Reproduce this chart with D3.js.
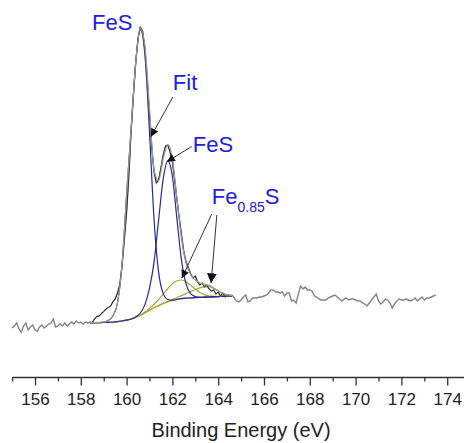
<!DOCTYPE html>
<html>
<head>
<meta charset="utf-8">
<script src="https://cdn.jsdelivr.net/npm/d3@7"></script>
<style>
  body { margin: 0; background: #fff; overflow: hidden; }
  svg { display: block; font-family: Arial, "Liberation Sans", sans-serif; }
</style>
</head>
<body>
<div id="plot"></div>
<script>
// measured spectrum: 155.0 .. 173.5 eV, one point every 0.1 eV
var rawStart = 155.0, rawStep = 0.1;
var rawCounts = [
  120,140,170,110,80,140,170,100,130,150, 100,90,130,150,120,140,160,170,210,130,
  140,160,140,170,140,160,180,160,190,170, 180,160,180,170,180,
  175,210,235,240,265,285,310,325,340,380, 410,470,550,740,1000,1280,1650,2100,2450,2780,
  3020,3130,3090,2900,2600,2250,1920,1680,1570,1600, 1720,1850,1940,1950,1880,1780,1600,1400,1220,1050,
  880,780,720,660,620,640,580,550,570,530, 550,510,490,500,460,480,440,470,430,450, 440,
  450,420,390,380,400,430,450,380,390,420, 420,420,430,430,440,450,470,500,500,480,
  480,470,480,440,470,470,390,400,370,460, 540,510,530,500,500,490,440,430,410,400,
  400,400,420,430,440,450,430,410,390,410, 420,400,410,410,400,390,390,370,360,340,
  370,400,430,460,390,360,380,410,400,370, 320,360,390,410,400,400,410,400,390,400,
  420,390,410,430,400,420,420,430,440,450
];
// part of the measured curve drawn in black
var blackFrom = 158.5, blackTo = 164.5;

// fitted curves: 158.4 .. 164.6 eV, one point every 0.2 eV
var fitStart = 158.4, fitStep = 0.2;
var background = [172,173,174,175,177,180,184,190,198,210,226,247,272,298,322,344,364,381,395,406,413,418,421,424,426,428,430,432,434,436,438,440];
var fesMain    = [172,173,175,180,195,240,370,750,1450,2120,2780,3100,2852,2078,1202,674,464,405,397,406,413,418,421,424,426,428,430,432,434,436,438,440];
var fesSecond  = [172,173,174,175,177,180,184,190,198,210,231,270,354,518,782,1204,1614,1791,1635,1206,793,558,461,434,426,428,430,432,434,436,438,440];
var fe085Low   = [172,173,174,175,177,180,184,190,198,210,227,250,280,316,357,406,460,515,563,593,600,582,547,509,476,454,442,437,436,436,438,440];
var fe085High  = [172,173,174,175,177,180,184,190,198,210,226,247,272,298,322,344,367,386,405,425,444,464,485,505,522,532,534,516,491,467,452,445];
var fitEnvelope= [172,173,175,180,195,240,370,750,1450,2120,2780,3120,2942,2316,1697,1596,1813,1954,1815,1412,1011,768,651,600,572,558,546,521,493,467,452,445];

var majorTicks = [156,158,160,162,164,166,168,170,172,174];
var minorTicks = [155,157,159,161,163,165,167,169,171,173];

// annotations in data units: label anchor and arrows (from -> tip)
var annoLabels = [
  {text: "FeS", e: 158.49, c: 3100},
  {text: "Fit", e: 162.02, c: 2505},
  {text: "FeS", e: 162.89, c: 1880},
  {text: "Fe", sub: "0.85", after: "S", e: 163.72, c: 1357}
];
var annoArrows = [
  {e0: 162.02, c0: 2430, e1: 161.06, c1: 2033, head: "small"},
  {e0: 162.84, c0: 1935, e1: 161.76, c1: 1783, head: "small"},
  {e0: 163.72, c0: 1260, e1: 162.41, c1: 617, head: "small"},
  {e0: 163.94, c0: 1250, e1: 163.69, c1: 567, head: "big"}
];

var W = 464, H = 443;
var svg = d3.select("#plot").append("svg")
  .attr("width", W).attr("height", H);

var x = d3.scaleLinear().domain([155, 175]).range([12.1, 470.1]);
var y = d3.scaleLinear().domain([0, 3200]).range([340, 20]);

function toPoints(arr, start, step) {
  return arr.map(function(v, i) { return [start + i * step, v]; });
}
var rawPts = toPoints(rawCounts, rawStart, rawStep);
var blackPts = rawPts.filter(function(p) { return p[0] >= blackFrom - 1e-6 && p[0] <= blackTo + 1e-6; });

var straight = d3.line().x(function(d) { return x(d[0]); }).y(function(d) { return y(d[1]); });
var smooth = d3.line().x(function(d) { return x(d[0]); }).y(function(d) { return y(d[1]); })
  .curve(d3.curveMonotoneX);

// ---- fitted components ----
var yellow = "#aaa832", blue = "#28289e";
[background, fe085Low, fe085High].forEach(function(s) {
  svg.append("path").datum(toPoints(s, fitStart, fitStep))
    .attr("d", smooth).attr("fill", "none")
    .attr("stroke", yellow).attr("stroke-width", 1.2);
});
[fesMain, fesSecond].forEach(function(s) {
  svg.append("path").datum(toPoints(s, fitStart, fitStep))
    .attr("d", smooth).attr("fill", "none")
    .attr("stroke", blue).attr("stroke-width", 1.2);
});

// ---- measured data ----
svg.append("path").datum(rawPts)
  .attr("d", straight).attr("fill", "none")
  .attr("stroke", "#858585").attr("stroke-width", 1.4);
svg.append("path").datum(blackPts)
  .attr("d", straight).attr("fill", "none")
  .attr("stroke", "#2a2a2a").attr("stroke-width", 1);

// fit envelope
svg.append("path").datum(toPoints(fitEnvelope, fitStart, fitStep))
  .attr("d", smooth).attr("fill", "none")
  .attr("stroke", "#999").attr("stroke-width", 1.2);

// ---- axis ----
var axisY = 377;
var gMajor = svg.append("g").attr("transform", "translate(0," + axisY + ")")
  .call(d3.axisBottom(x).tickValues(majorTicks).tickSize(8.5).tickSizeOuter(0).tickPadding(7.5));
gMajor.selectAll("text").attr("font-size", 17).attr("fill", "#222").attr("font-family", "Arial, 'Liberation Sans', sans-serif");
gMajor.select(".domain").attr("stroke", "#333").attr("stroke-width", 1.4);
gMajor.selectAll(".tick line").attr("stroke", "#333").attr("stroke-width", 1.3);

var gMinor = svg.append("g").attr("transform", "translate(0," + axisY + ")")
  .call(d3.axisBottom(x).tickValues(minorTicks).tickSize(4.5).tickSizeOuter(0).tickFormat(""));
gMinor.select(".domain").remove();
gMinor.selectAll(".tick line").attr("stroke", "#333").attr("stroke-width", 1.3);

svg.append("text")
  .attr("x", x(165)).attr("y", 437)
  .attr("text-anchor", "middle")
  .attr("font-size", 20).attr("fill", "#222")
  .text("Binding Energy (eV)");

// ---- annotations ----
var defs = svg.append("defs");
defs.append("marker").attr("id", "head-small")
  .attr("markerUnits", "userSpaceOnUse")
  .attr("viewBox", "0 0 10 10").attr("refX", 10).attr("refY", 5)
  .attr("markerWidth", 9).attr("markerHeight", 8).attr("orient", "auto")
  .append("path").attr("d", "M0,0 L10,5 L0,10 z").attr("fill", "#111");
defs.append("marker").attr("id", "head-big")
  .attr("markerUnits", "userSpaceOnUse")
  .attr("viewBox", "0 0 10 10").attr("refX", 10).attr("refY", 5)
  .attr("markerWidth", 10).attr("markerHeight", 12).attr("orient", "auto")
  .append("path").attr("d", "M0,0 L10,5 L0,10 z").attr("fill", "#111");

svg.selectAll(".arrow").data(annoArrows).enter().append("line")
  .attr("class", "arrow")
  .attr("x1", function(d) { return x(d.e0); })
  .attr("y1", function(d) { return y(d.c0); })
  .attr("x2", function(d) { return x(d.e1); })
  .attr("y2", function(d) { return y(d.c1); })
  .attr("stroke", "#333").attr("stroke-width", 1)
  .attr("marker-end", function(d) { return "url(#head-" + d.head + ")"; });

var labelColor = "#2020e0";
annoLabels.forEach(function(d) {
  var t = svg.append("text")
    .attr("x", x(d.e)).attr("y", y(d.c))
    .attr("font-size", 22).attr("fill", labelColor);
  t.append("tspan").text(d.text);
  if (d.sub) {
    t.append("tspan").attr("font-size", 14).attr("dy", 8).text(d.sub);
    t.append("tspan").attr("dy", -8).text(d.after);
  }
});
</script>
</body>
</html>
